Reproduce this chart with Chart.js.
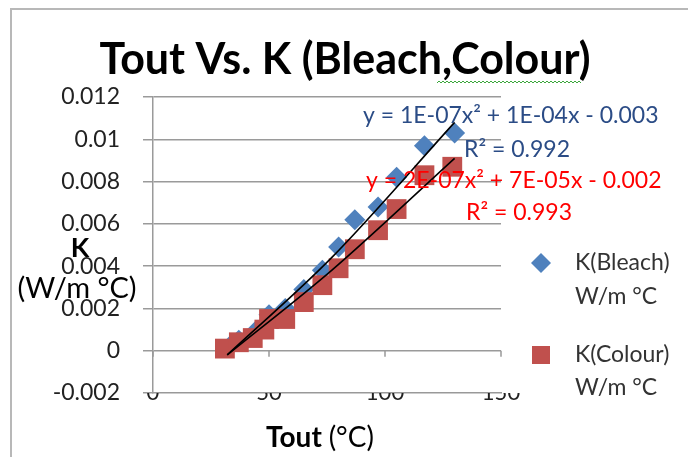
<!DOCTYPE html>
<html>
<head>
<meta charset="utf-8">
<title>Tout Vs. K (Bleach,Colour)</title>
<script src="https://cdn.jsdelivr.net/npm/chart.js@4.4.1/dist/chart.umd.min.js"></script>
<style>
    html, body { margin: 0; padding: 0; background: #fff; }
    #wrap { width: 688px; height: 457px; }
</style>
</head>
<body>
<div id="wrap"><canvas id="kChart" width="688" height="457"></canvas></div>
<script>
// data
const bleachTout = [33, 37, 44, 50, 57, 65, 73, 80, 87, 97, 105, 117, 130];
const bleachK = [0.0002, 0.0005, 0.0009, 0.0017, 0.0020, 0.0029, 0.0038, 0.0049, 0.0062, 0.0068, 0.0082, 0.0097, 0.0103];

const colourTout = [31, 37, 43, 48, 50, 57, 65, 73, 80, 87, 97, 105, 117, 129];
const colourK = [0.0001, 0.0004, 0.0006, 0.0010, 0.0015, 0.0015, 0.0023, 0.0031, 0.0039, 0.0048, 0.0057, 0.0067, 0.0083, 0.0087];

// trendlines as drawn in the picture
const bleachTrendX = [32, 77, 130];
const bleachTrendY = [-0.0002, 0.0044, 0.0108];
const colourTrendX = [32, 77, 130];
const colourTrendY = [-0.0002, 0.0038, 0.0091];

const xTicks = [0, 50, 100, 150];
const yTicks = [-0.002, 0, 0.002, 0.004, 0.006, 0.008, 0.01, 0.012];
const yTickLabels = ['-0.002', '0', '0.002', '0.004', '0.006', '0.008', '0.01', '0.012'];

const BLUE = '#4F81BD';
const RED = '#C0504D';
const FONT = 'Lato, "Open Sans", sans-serif';

function toPoints(xs, ys) {
    return xs.map((x, i) => ({ x: x, y: ys[i] }));
}

// frame, title, axis titles, legend and equation labels
const decorations = {
    id: 'decorations',
    beforeDraw(chart) {
        const ctx = chart.ctx;
        ctx.save();
        ctx.strokeStyle = '#b8b8b8';
        ctx.lineWidth = 2;
        ctx.beginPath();
        ctx.moveTo(11, 457);
        ctx.lineTo(11, 9);
        ctx.lineTo(688, 9);
        ctx.stroke();
        ctx.restore();
    },
    afterDraw(chart) {
        const ctx = chart.ctx;
        const x = chart.scales.x;
        const y = chart.scales.y;
        ctx.save();

        // small tick marks on the zero line
        ctx.strokeStyle = '#999';
        ctx.lineWidth = 1.5;
        const y0 = y.getPixelForValue(0);
        xTicks.forEach(v => {
            const px = x.getPixelForValue(v);
            ctx.beginPath();
            ctx.moveTo(px, y0);
            ctx.lineTo(px, y0 + 6);
            ctx.stroke();
        });

        // title
        ctx.fillStyle = '#000';
        ctx.textBaseline = 'middle';
        ctx.textAlign = 'center';
        ctx.font = 'bold 43px ' + FONT;
        ctx.fillText('Tout Vs. K (Bleach,Colour)', 345, 60);

        // spell-check squiggle under "Colour"
        ctx.strokeStyle = '#3aa63a';
        ctx.lineWidth = 1;
        ctx.beginPath();
        for (let px = 437, k = 0; px <= 582; px += 2, k++) {
            const py = 82 + (k % 2 ? -1 : 1);
            if (px === 437) ctx.moveTo(px, py); else ctx.lineTo(px, py);
        }
        ctx.stroke();

        // y axis title
        ctx.fillStyle = '#000';
        ctx.font = 'bold 27px ' + FONT;
        ctx.fillText('K', 80, 248);
        ctx.font = '29px ' + FONT;
        ctx.fillText('(W/m \u00B0C)', 77, 289);

        // x axis title
        ctx.textAlign = 'left';
        ctx.font = 'bold 28px ' + FONT;
        const w1 = ctx.measureText('Tout ').width;
        ctx.font = '28px ' + FONT;
        const w2 = ctx.measureText('(\u00B0C)').width;
        const startX = 320 - (w1 + w2) / 2;
        ctx.font = 'bold 28px ' + FONT;
        ctx.fillText('Tout ', startX, 438);
        ctx.font = '28px ' + FONT;
        ctx.fillText('(\u00B0C)', startX + w1, 438);

        // trendline equations
        ctx.font = '23px ' + FONT;
        ctx.fillStyle = '#2B4C86';
        ctx.fillText('y = 1E-07x\u00B2 + 1E-04x - 0.003', 363, 116);
        ctx.fillText('R\u00B2 = 0.992', 464, 150);
        ctx.fillStyle = '#FF0000';
        ctx.fillText('y = 2E-07x\u00B2 + 7E-05x - 0.002', 366, 181);
        ctx.fillText('R\u00B2 = 0.993', 466, 213);

        // legend
        ctx.fillStyle = BLUE;
        ctx.beginPath();
        ctx.moveTo(531, 263);
        ctx.lineTo(541, 253);
        ctx.lineTo(551, 263);
        ctx.lineTo(541, 273);
        ctx.closePath();
        ctx.fill();
        ctx.fillStyle = RED;
        ctx.fillRect(532, 346, 18, 18);

        ctx.fillStyle = '#333';
        ctx.font = '23px ' + FONT;
        ctx.fillText('K(Bleach)', 575, 263);
        ctx.fillText('W/m \u00B0C', 575, 297);
        ctx.fillText('K(Colour)', 575, 355);
        ctx.fillText('W/m \u00B0C', 575, 388);

        ctx.restore();
    }
};

const ctx = document.getElementById('kChart').getContext('2d');

const kChart = new Chart(ctx, {
    type: 'scatter',
    data: {
        datasets: [
            {
                label: 'Trend Bleach',
                data: toPoints(bleachTrendX, bleachTrendY),
                showLine: true,
                cubicInterpolationMode: 'monotone',
                borderColor: '#000',
                borderWidth: 1.6,
                pointRadius: 0,
                fill: false
            },
            {
                label: 'Trend Colour',
                data: toPoints(colourTrendX, colourTrendY),
                showLine: true,
                cubicInterpolationMode: 'monotone',
                borderColor: '#000',
                borderWidth: 1.6,
                pointRadius: 0,
                fill: false
            },
            {
                label: 'K(Colour) W/m °C',
                data: toPoints(colourTout, colourK),
                pointStyle: 'rect',
                pointRadius: 14,
                backgroundColor: RED,
                borderColor: RED,
                borderWidth: 0
            },
            {
                label: 'K(Bleach) W/m °C',
                data: toPoints(bleachTout, bleachK),
                pointStyle: 'rectRot',
                pointRadius: 10.5,
                backgroundColor: BLUE,
                borderColor: BLUE,
                borderWidth: 0
            }
        ]
    },
    options: {
        responsive: false,
        animation: false,
        events: [],
        layout: {
            padding: { left: 0, right: 187, top: 97, bottom: 0 }
        },
        plugins: {
            legend: { display: false },
            title: { display: false },
            tooltip: { enabled: false }
        },
        scales: {
            x: {
                type: 'linear',
                min: 0,
                max: 150,
                afterBuildTicks: scale => {
                    scale.ticks = xTicks.map(v => ({ value: v }));
                },
                afterFit: scale => {
                    scale.height = 64;
                },
                grid: { drawOnChartArea: false, drawTicks: false },
                border: { display: true, color: '#999', width: 1.5 },
                ticks: {
                    padding: -13,
                    color: '#222',
                    font: { family: FONT, size: 22 },
                    maxRotation: 0
                }
            },
            y: {
                min: -0.002,
                max: 0.012,
                afterBuildTicks: scale => {
                    scale.ticks = yTicks.map(v => ({ value: v }));
                },
                afterFit: scale => {
                    scale.width = 153;
                },
                grid: {
                    color: c => (c.tick && c.tick.value < -0.001) ? 'rgba(0,0,0,0)' : '#9a9a9a',
                    tickColor: '#9a9a9a',
                    lineWidth: 1.5,
                    tickLength: 10
                },
                border: { display: true, color: '#9a9a9a', width: 1.5 },
                ticks: {
                    padding: 23,
                    color: '#222',
                    font: { family: FONT, size: 23 },
                    callback: (value, index) => yTickLabels[index]
                }
            }
        }
    },
    plugins: [decorations]
});
</script>
</body>
</html>
